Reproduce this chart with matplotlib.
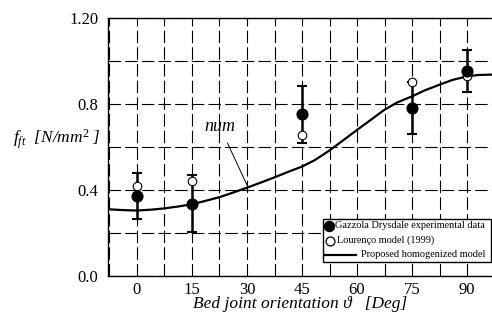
import numpy as np
import matplotlib
matplotlib.use("Agg")
import matplotlib.pyplot as plt
from matplotlib.patches import Rectangle

plt.rcParams['font.family'] = ['Liberation Serif', 'DejaVu Serif']
plt.rcParams['mathtext.fontset'] = 'custom'
plt.rcParams['mathtext.rm'] = 'Liberation Serif'
plt.rcParams['mathtext.it'] = 'Liberation Serif:italic'
plt.rcParams['lines.scale_dashes'] = False

# experimental data (Gazzola Drysdale)
angles = [0, 15, 45, 75, 90]
exp_mean = [0.372, 0.333, 0.752, 0.780, 0.953]
exp_low = [0.264, 0.205, 0.617, 0.659, 0.854]
exp_high = [0.480, 0.467, 0.884, 0.900, 1.048]

# Lourenco model (1999)
lourenco = [0.420, 0.443, 0.656, 0.899, 0.927]

# proposed homogenized model
model_x = [-8, -4, 0, 4, 7.5, 11, 15, 18.5, 22.5, 26, 30, 33.5, 37.5, 41,
           45, 48.5, 52.5, 56, 60, 64, 67.5, 71, 75, 78.5, 82.5, 86, 90, 93, 97]
model_y = [0.310, 0.306, 0.304, 0.308, 0.314, 0.322, 0.333, 0.348, 0.366, 0.386,
           0.410, 0.432, 0.458, 0.482, 0.508, 0.538, 0.583, 0.627, 0.678, 0.728,
           0.772, 0.806, 0.834, 0.862, 0.888, 0.910, 0.927, 0.933, 0.935]

legend_labels = ['Gazzola Drysdale experimental data', 'Lourenço model (1999)',
                 'Proposed homogenized model']

fig = plt.figure(figsize=(4.92, 3.2), dpi=100)
ax = fig.add_axes([108 / 492, 44 / 320, 1 - 108 / 492, 258.5 / 320])

ax.set_xlim(-7.9, 96.8)
ax.set_ylim(0, 1.2)

ax.set_xticks([0, 15, 30, 45, 60, 75, 90])
ax.set_xticks(np.arange(-7.5, 97, 7.5), minor=True)
ax.set_yticks([0.0, 0.4, 0.8, 1.2])
ax.set_yticklabels(['0.0', '0.4', '0.8', '1.20'])
ax.set_yticks([0.2, 0.6, 1.0], minor=True)

ax.tick_params(which='both', length=0, labelsize=12)
ax.tick_params(axis='x', pad=4)
ax.tick_params(axis='y', pad=7)

ax.grid(True, which='both', color='black', linewidth=0.8, linestyle=(0, (9, 3)))
ax.set_axisbelow(True)

for s in ['left', 'bottom', 'top']:
    ax.spines[s].set_linewidth(1.0)
ax.spines['right'].set_visible(False)

ax.plot(model_x, model_y, color='black', lw=1.6, zorder=3)

yerr = [np.array(exp_mean) - np.array(exp_low), np.array(exp_high) - np.array(exp_mean)]
ax.errorbar(angles, exp_mean, yerr=yerr, fmt='none', ecolor='black',
            elinewidth=1.8, capsize=3.6, capthick=1.5, zorder=4)
ax.scatter(angles, lourenco, s=38, facecolors='white', edgecolors='black',
           linewidths=0.8, zorder=5)
ax.scatter(angles, exp_mean, s=60, color='black', zorder=6)

ax.annotate('num', xy=(30.2, 0.415), xytext=(22.6, 0.693), fontsize=13,
            style='italic', ha='center', va='center',
            arrowprops=dict(arrowstyle='-', color='black', lw=0.7,
                            shrinkA=4, shrinkB=0))

# legend box drawn by hand (the text follows each handle directly)
tr = ax.transAxes
def ax_x(px):
    return (px - 108) / 384
def ax_y(py):
    return (276 - py) / 258.5

ax.add_patch(Rectangle((ax_x(323), ax_y(262)), ax_x(491) - ax_x(323),
                       ax_y(219) - ax_y(262), transform=tr, facecolor='white',
                       edgecolor='black', lw=1.0, zorder=7))
ax.plot([ax_x(329)], [ax_y(226)], 'o', color='black', ms=7.2, transform=tr,
        zorder=8, clip_on=False)
ax.plot([ax_x(330)], [ax_y(240.5)], 'o', mfc='white', mec='black', mew=0.9,
        ms=6.4, transform=tr, zorder=8, clip_on=False)
ax.plot([ax_x(325), ax_x(356)], [ax_y(254.5)] * 2, color='black', lw=1.6,
        transform=tr, zorder=8, clip_on=False)
for tx, ty, lab in zip([335, 337, 361], [226, 240.5, 254.5], legend_labels):
    ax.text(ax_x(tx), ax_y(ty), lab, transform=tr, fontsize=7.4,
            ha='left', va='center', zorder=9)

ax.set_xlabel(r'Bed joint orientation ϑ   [Deg]', fontsize=12.5, style='italic',
              labelpad=-1)
fig.text(13 / 492, 1 - 139 / 320, r'$f_{ft}$  [N/mm$^2$ ]', fontsize=12.5,
         style='italic', ha='left', va='center')

fig.savefig('out.png', dpi=100)
